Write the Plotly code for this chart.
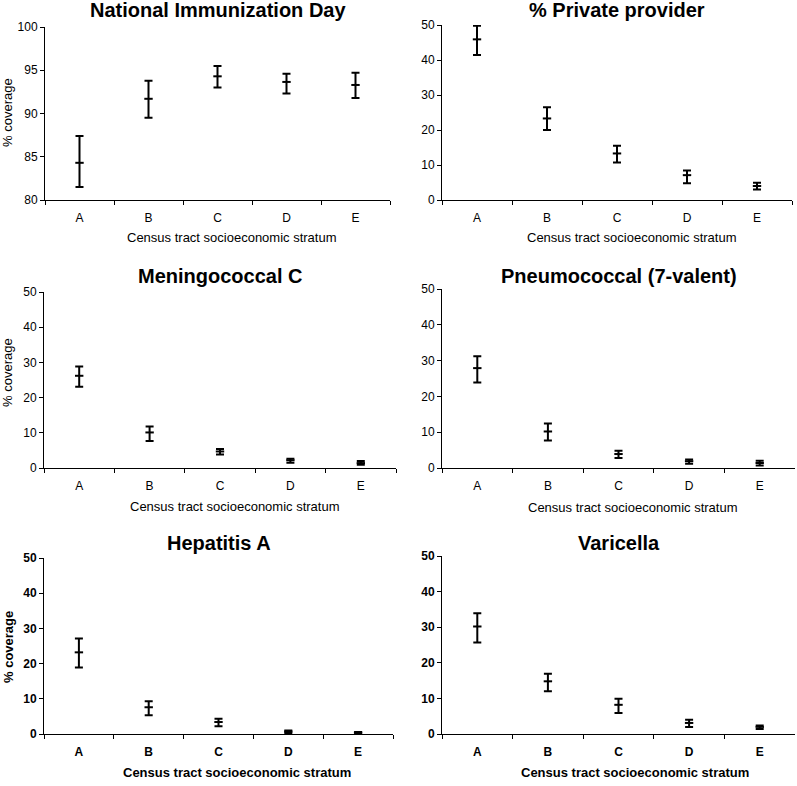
import plotly.graph_objects as go

W, H = 797, 786

categories = ["A", "B", "C", "D", "E"]

titles = ["National Immunization Day", "% Private provider", "Meningococcal C",
          "Pneumococcal (7-valent)", "Hepatitis A", "Varicella"]

nid_center = [84.3, 91.7, 94.3, 93.65, 93.3]
nid_upper = [87.4, 93.8, 95.5, 94.6, 94.7]
nid_lower = [81.5, 89.5, 93.0, 92.3, 91.8]

priv_center = [45.9, 23.3, 13.3, 7.1, 4.0]
priv_upper = [49.8, 26.5, 15.5, 8.4, 4.9]
priv_lower = [41.4, 20.0, 10.7, 4.8, 3.0]

menc_center = [26.2, 10.1, 4.7, 2.2, 1.4]
menc_upper = [28.8, 11.8, 5.4, 2.6, 2.0]
menc_lower = [23.1, 7.7, 3.8, 1.5, 0.9]

pneu_center = [27.9, 10.2, 3.9, 1.9, 1.4]
pneu_upper = [31.2, 12.4, 4.8, 2.4, 2.0]
pneu_lower = [23.9, 7.7, 2.8, 1.2, 0.7]

hepa_center = [23.2, 7.6, 3.4, 0.7, 0.4]
hepa_upper = [27.1, 9.3, 4.3, 1.0, 0.6]
hepa_lower = [18.9, 5.3, 2.2, 0.3, 0.2]

vari_center = [30.2, 14.8, 8.2, 3.1, 2.0]
vari_upper = [33.9, 16.9, 9.9, 4.0, 2.4]
vari_lower = [25.7, 12.0, 5.9, 2.0, 1.4]

yranges = [[80, 100], [0, 50], [0, 50], [0, 50], [0, 50], [0, 50]]
ydtick = [5, 10, 10, 10, 10, 10]

series = [
    (nid_center, nid_upper, nid_lower),
    (priv_center, priv_upper, priv_lower),
    (menc_center, menc_upper, menc_lower),
    (pneu_center, pneu_upper, pneu_lower),
    (hepa_center, hepa_upper, hepa_lower),
    (vari_center, vari_upper, vari_lower),
]

# plot area boxes in pixels: (x0, x1, ytop, ybottom)
boxes = [
    (45, 390, 27, 200),
    (442, 792, 25, 200),
    (44, 396, 292, 468),
    (442, 795, 289, 468),
    (44, 393, 558, 734),
    (442, 795, 556, 734),
]
title_y = [10, 10, 276, 276, 543, 543]
xtitle_pos = [(232, 237), (632, 237), (235, 506), (633, 507), (237, 772), (635, 772)]
ytitle_pos = [(7, 113), None, (7, 373), None, (8, 647), None]

FONT = "Liberation Sans, Arial, sans-serif"

fig = go.Figure()
layout = dict(
    width=W, height=H, margin=dict(l=0, r=0, t=0, b=0, autoexpand=False),
    paper_bgcolor="white", plot_bgcolor="white", showlegend=False,
    font=dict(family=FONT, size=12, color="black"),
)
annotations = []

for i, ((c, u, l), box) in enumerate(zip(series, boxes)):
    x0, x1, yt, yb = box
    bold = i >= 4
    weight = "bold" if bold else "normal"
    xa = "x" if i == 0 else f"x{i+1}"
    ya = "y" if i == 0 else f"y{i+1}"
    fig.add_trace(go.Scatter(
        x=categories, y=c, mode="markers", xaxis=xa, yaxis=ya,
        marker=dict(symbol="line-ew", size=6, color="black",
                    line=dict(color="black", width=2)),
        error_y=dict(type="data", symmetric=False,
                     array=[uu - cc for uu, cc in zip(u, c)],
                     arrayminus=[cc - ll for cc, ll in zip(c, l)],
                     color="black", thickness=2, width=4),
    ))
    axkey = "xaxis" if i == 0 else f"xaxis{i+1}"
    aykey = "yaxis" if i == 0 else f"yaxis{i+1}"
    layout[axkey] = dict(
        domain=[x0 / W, x1 / W], anchor=ya, type="category", automargin=False,
        range=[-0.5, 4.5], showline=True, linecolor="black", linewidth=1,
        ticks="outside", ticklen=4, tickcolor="black", tickson="boundaries",
        showgrid=False, zeroline=False, ticklabelstandoff=7,
        tickfont=dict(family=FONT, size=12, color="black", weight=weight),
    )
    layout[aykey] = dict(
        domain=[1 - yb / H, 1 - yt / H], anchor=xa, automargin=False,
        range=yranges[i], dtick=ydtick[i], tick0=0,
        showline=True, linecolor="black", linewidth=1,
        ticks="outside", ticklen=4, tickcolor="black",
        showgrid=False, zeroline=False,
        tickfont=dict(family=FONT, size=12, color="black", weight=weight),
    )
    annotations.append(dict(
        text=titles[i], x=(x0 + x1) / 2 / W, y=1 - title_y[i] / H,
        xref="paper", yref="paper", xanchor="center", yanchor="middle",
        showarrow=False, font=dict(family=FONT, size=20, color="black", weight="bold"),
    ))
    xt = xtitle_pos[i]
    annotations.append(dict(
        text="Census tract socioeconomic stratum", x=xt[0] / W, y=1 - xt[1] / H,
        xref="paper", yref="paper", xanchor="center", yanchor="middle",
        showarrow=False, font=dict(family=FONT, size=13, color="black", weight=weight),
    ))
    if ytitle_pos[i] is not None:
        yt_ = ytitle_pos[i]
        annotations.append(dict(
            text="% coverage", x=yt_[0] / W, y=1 - yt_[1] / H, textangle=-90,
            xref="paper", yref="paper", xanchor="center", yanchor="middle",
            showarrow=False, font=dict(family=FONT, size=13, color="black", weight=weight),
        ))

layout["annotations"] = annotations
fig.update_layout(**layout)
fig.write_html(
    "out.html",
    config={"displayModeBar": False},
    post_script="document.body.style.margin='0';document.body.style.overflow='hidden';",
)
